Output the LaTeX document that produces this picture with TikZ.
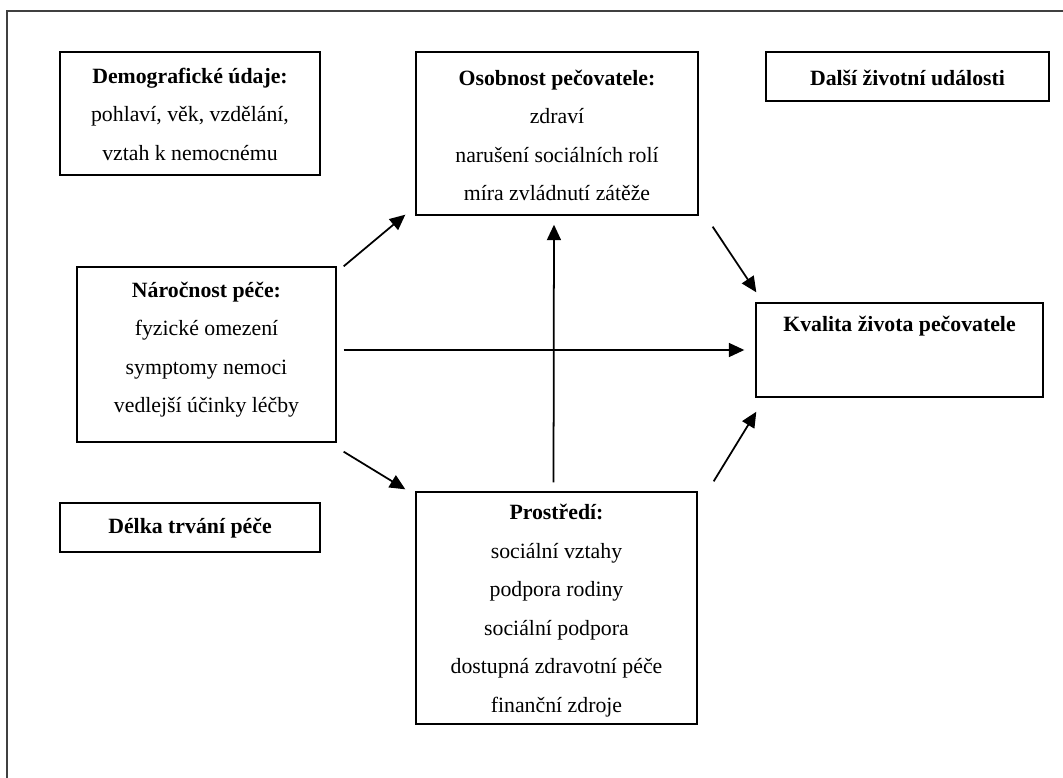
\documentclass[tikz,border=0pt]{standalone}
\usepackage{fontspec}
\setmainfont{Liberation Serif}
\usetikzlibrary{arrows.meta}

% struts that fix where the text sits in a box
\newcommand{\topgap}[1]{\rule{0pt}{#1}}
\newcommand{\botgap}[1]{\rule[-#1]{0pt}{#1}}

\begin{document}
\begin{tikzpicture}[x=0.02cm, y=-0.02cm,
    box/.style={draw, rectangle, line width=0.8pt, align=center, inner sep=0pt, font=\fontsize{12.4}{21.9}\selectfont},
    arr/.style={-{Triangle[length=3.1mm,width=2.8mm]}, line width=1pt}]
    \useasboundingbox (0,0) rectangle (1063,778);

    % Frame
    \draw[line width=1.2pt, black!75] (7,778) -- (7,11) -- (1063,11);

    % Components
    \node[box, minimum width=5.2cm, minimum height=2.46cm] (demo) at (190,113.5)
        {\topgap{17.6pt}\textbf{Demografické údaje:}\\ pohlaví, věk, vzdělání,\\ vztah k nemocnému\botgap{8.4pt}};

    \node[box, minimum width=5.64cm, minimum height=3.26cm] (oso) at (557,133.5)
        {\topgap{18.8pt}\textbf{Osobnost pečovatele:}\\ zdraví\\ narušení sociálních rolí\\ míra zvládnutí zátěže\botgap{8.2pt}};

    \node[box, minimum width=5.66cm, minimum height=0.98cm] (dalsi) at (907.5,76.5)
        {\topgap{18.8pt}\textbf{Další životní události}\botgap{9.1pt}};

    \node[box, minimum width=5.18cm, minimum height=3.5cm] (naro) at (206.5,354.5)
        {\topgap{17.1pt}\textbf{Náročnost péče:}\\ fyzické omezení\\ symptomy nemoci\\ vedlejší účinky léčby\botgap{16.8pt}};

    \node[box, minimum width=5.74cm, minimum height=1.88cm] (kval) at (899.5,350)
        {\topgap{16.5pt}\textbf{Kvalita života pečovatele}\botgap{37pt}};

    \node[box, minimum width=5.2cm, minimum height=0.98cm] (delka) at (190,527.5)
        {\topgap{17.1pt}\textbf{Délka trvání péče}\botgap{10.8pt}};

    \node[box, minimum width=5.62cm, minimum height=4.64cm] (prost) at (556.5,608)
        {\topgap{15.9pt}\textbf{Prostředí:}\\ sociální vztahy\\ podpora rodiny\\ sociální podpora\\ dostupná zdravotní péče\\ finanční zdroje\botgap{6.6pt}};

    % Connections
    \draw[arr] ([shift={(7,0)}]naro.north east) -- ([shift={(-10,-1)}]oso.south west);
    \draw[arr] ([shift={(7,9)}]naro.south east) -- ([shift={(-10,-2)}]prost.north west);
    \draw[arr] ([xshift=0.14cm]naro.east |- kval.west) -- ([xshift=-0.22cm]kval.west);
    \draw[arr, shorten <=0.18cm, shorten >=0.18cm] ([xshift=-0.06cm]prost.north) -- ([xshift=-0.06cm]oso.south);
    \draw[arr] ([shift={(14,11)}]oso.south east) -- ([shift={(1,-10)}]kval.north west);
    \draw[arr] ([shift={(16,-10)}]prost.north east) -- ([shift={(1,14)}]kval.south west);

\end{tikzpicture}
\end{document}
